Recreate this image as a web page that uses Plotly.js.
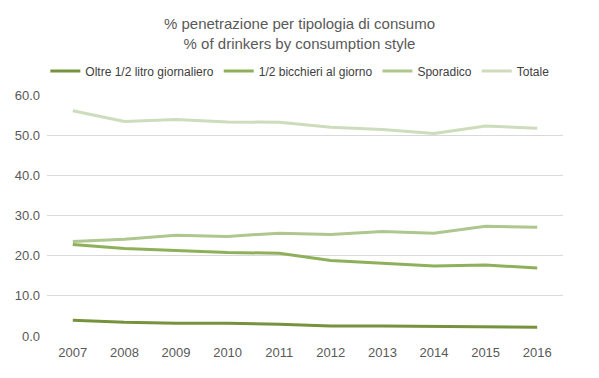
<!DOCTYPE html>
<html><head><meta charset="utf-8">
<script src="https://cdn.plot.ly/plotly-3.0.1.min.js"></script>
<style>html,body{margin:0;padding:0;background:#fff}#chart{width:599px;height:378px}</style>
</head><body><div id="chart"></div>
<script>
const years = ['2007','2008','2009','2010','2011','2012','2013','2014','2015','2016'];
const oltre = [3.9, 3.4, 3.2, 3.2, 2.9, 2.5, 2.5, 2.4, 2.2, 2.2];
const bicchieri = [22.8, 21.8, 21.3, 20.8, 20.6, 18.8, 18.1, 17.4, 17.7, 16.9];
const sporadico = [23.5, 24.1, 25.1, 24.8, 25.6, 25.3, 26.0, 25.6, 27.3, 27.1];
const totale = [56.1, 53.4, 53.9, 53.3, 53.2, 52.0, 51.4, 50.4, 52.3, 51.7];
const names = ['Oltre 1/2 litro giornaliero', '1/2 bicchieri al giorno', 'Sporadico', 'Totale'];
const colors = ['#76923c', '#8fb05a', '#adc78e', '#cddcbc'];
const series = [oltre, bicchieri, sporadico, totale];
const traces = series.map((v, i) => ({
  x: years, y: v, type: 'scatter', mode: 'lines', name: names[i],
  line: {color: colors[i], width: 3}
}));
const layout = {
  width: 599, height: 378,
  margin: {l: 47, r: 36, t: 95, b: 42},
  paper_bgcolor: '#fff', plot_bgcolor: '#fff',
  font: {family: 'Liberation Sans Narrow, Arial Narrow, Liberation Sans, sans-serif', color: '#595959'},
  title: {text: '% penetrazione per tipologia di consumo<br>% of drinkers by consumption style',
    x: 0.5, xanchor: 'center', yref: 'container', y: 0.923, yanchor: 'middle',
    font: {size: 15, color: '#595959'}},
  legend: {orientation: 'h', x: 0.49, xanchor: 'center', y: 1.10, yanchor: 'middle',
    font: {size: 12, color: '#404040'}, itemwidth: 30, tracegroupgap: 0},
  xaxis: {type: 'category', range: [-0.5, 9.5], showgrid: false, zeroline: false, showline: false,
    ticks: '', tickfont: {size: 13, color: '#595959'}, ticklabelstandoff: 7},
  yaxis: {range: [0, 60], dtick: 10, tickformat: '.1f', showgrid: true, gridcolor: '#d9d9d9',
    gridwidth: 1, zeroline: false, showline: false, ticks: '',
    tickfont: {size: 13, color: '#595959'}, ticklabelstandoff: 6}
};
Plotly.newPlot('chart', traces, layout, {displayModeBar: false, staticPlot: true});
</script></body></html>
